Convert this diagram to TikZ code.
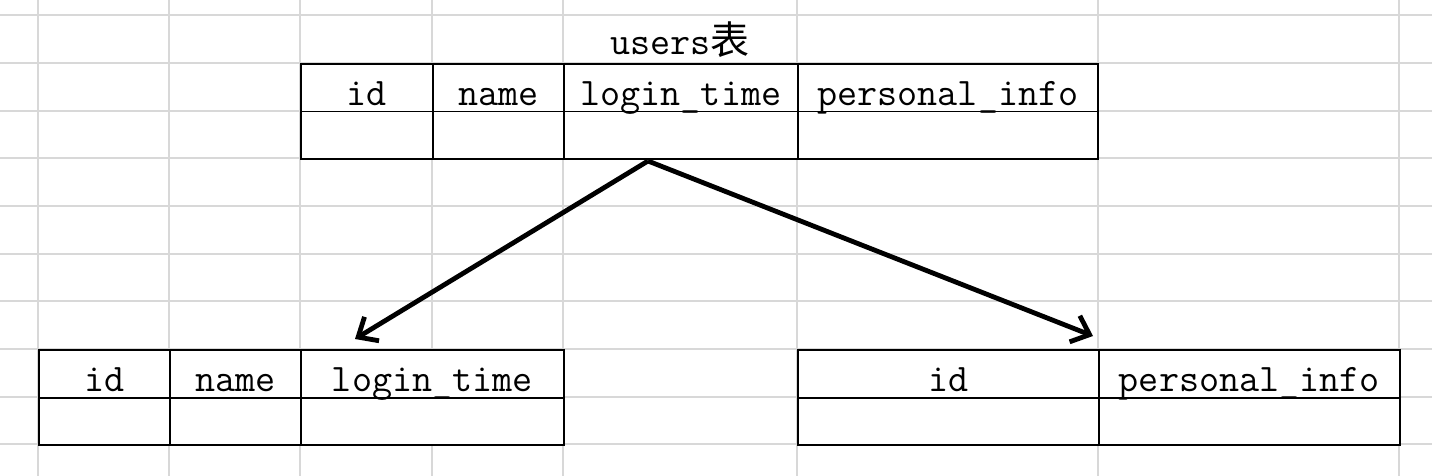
\documentclass[tikz,border=0pt]{standalone}
\usepackage{fontspec}
\usepackage{tikz}
\usepackage{xcolor}
\usetikzlibrary{arrows.meta}
\newfontfamily\cjk{Noto Sans CJK SC}
\definecolor{gridgray}{RGB}{216, 216, 216}
\definecolor{inkblack}{RGB}{0, 0, 0}
\definecolor{white}{RGB}{255, 255, 255}
\tikzset{
  gridline/.style={draw=gridgray,line width=1pt},
  cellbox/.style={rectangle,draw=inkblack,fill=white,line width=0.9pt,anchor=north west,
    minimum height=23.85pt,inner sep=0pt,text height=18pt,text depth=0pt,
    font=\ttfamily\fontsize{19.5}{22}\selectfont},
  splitarrow/.style={draw=inkblack,line width=2.4pt,-{Straight Barb[length=8pt,width=14pt]}}
}

\begin{document}
\begin{tikzpicture}[x=0.5pt,y=-0.5pt]
        \useasboundingbox[fill=white] (0,0) rectangle (1432,476);
        \foreach \gx in {38,169,300,432,563,797,1098,1399}
            \draw[gridline] (\gx,0) -- (\gx,476);
        \foreach \gy in {15,63,110.7,158.3,206,253.7,301.3,349,396.7,444.3}
            \draw[gridline] (0,\gy) -- (1432,\gy);

        \node[anchor=base,font=\ttfamily\fontsize{19.5}{22}\selectfont] (title) at (680,55) {users{\cjk 表}};

        % empty value rows first, so the header descenders stay on top
        \node[cellbox,minimum width=66pt] (u-id-val) at (300,110.7) {};
        \node[cellbox,minimum width=65.5pt] (u-name-val) at (432,110.7) {};
        \node[cellbox,minimum width=117pt] (u-login-val) at (563,110.7) {};
        \node[cellbox,minimum width=150pt] (u-info-val) at (797,110.7) {};
        \node[cellbox,minimum width=66pt] (u-id) at (300,63) {id};
        \node[cellbox,minimum width=65.5pt] (u-name) at (432,63) {name};
        \node[cellbox,minimum width=117pt] (u-login) at (563,63) {login\_time};
        \node[cellbox,minimum width=150pt] (u-info) at (797,63) {personal\_info};

        \node[cellbox,minimum width=65.5pt] (l-id-val) at (38,396.7) {};
        \node[cellbox,minimum width=65.5pt] (l-name-val) at (169,396.7) {};
        \node[cellbox,minimum width=131.5pt] (l-login-val) at (300,396.7) {};
        \node[cellbox,minimum width=65.5pt] (l-id) at (38,349) {id};
        \node[cellbox,minimum width=65.5pt] (l-name) at (169,349) {name};
        \node[cellbox,minimum width=131.5pt] (l-login) at (300,349) {login\_time};

        \node[cellbox,minimum width=150.5pt] (r-id-val) at (797,396.7) {};
        \node[cellbox,minimum width=150.5pt] (r-info-val) at (1098,396.7) {};
        \node[cellbox,minimum width=150.5pt] (r-id) at (797,349) {id};
        \node[cellbox,minimum width=150.5pt] (r-info) at (1098,349) {personal\_info};

        \coordinate (fork) at (648,161);
        \coordinate (left-tip) at (355,339);
        \coordinate (right-tip) at (1093,336);
        \draw[splitarrow] (fork) -- (left-tip);
        \draw[splitarrow] (fork) -- (right-tip);
    \end{tikzpicture}
\end{document}
